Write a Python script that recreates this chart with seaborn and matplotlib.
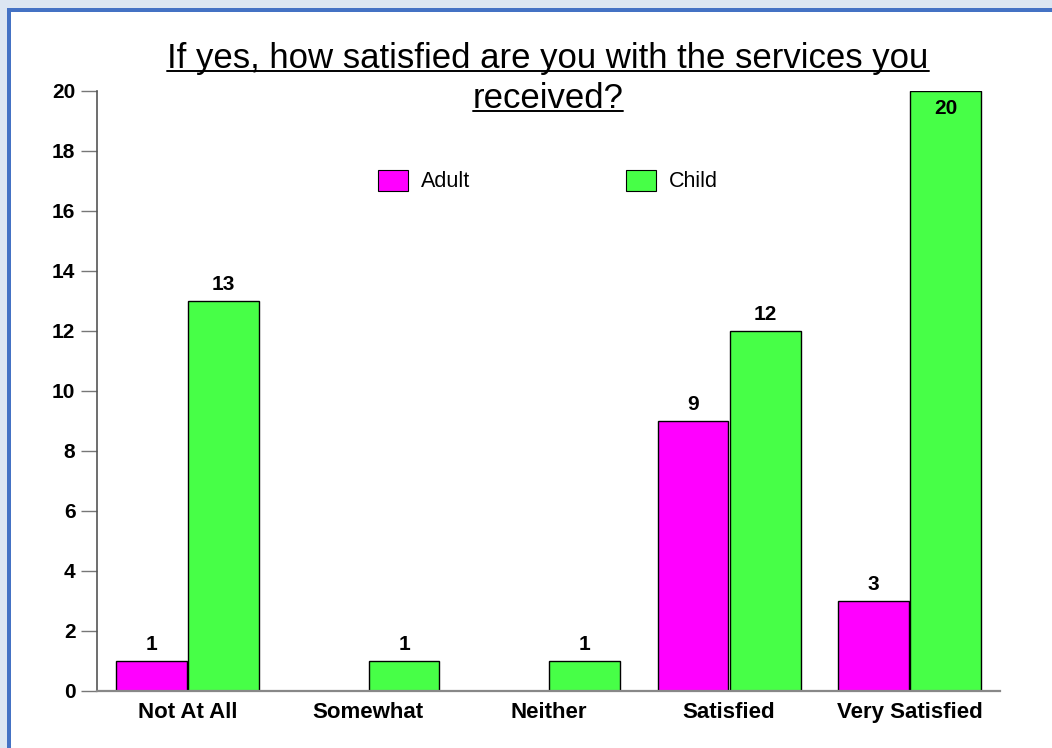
import numpy as np
import pandas as pd
import matplotlib
matplotlib.use("Agg")
import matplotlib.pyplot as plt
from matplotlib.patches import Rectangle
from matplotlib.lines import Line2D
import seaborn as sns

# ---- data ----
responses = ["Not At All", "Somewhat", "Neither", "Satisfied", "Very Satisfied"]
adult = [1, np.nan, np.nan, 9, 3]
child = [13, 1, 1, 12, 20]
groups = ["Adult", "Child"]
title_lines = ["If yes, how satisfied are you with the services you", "received?"]
y_ticks = list(range(0, 21, 2))

df = pd.DataFrame({
    "Response": responses * 2,
    "Group": ["Adult"] * len(responses) + ["Child"] * len(responses),
    "Count": adult + child,
})

sns.set_theme(style="white")
plt.rcParams["font.family"] = ["Liberation Sans", "DejaVu Sans"]

W, H = 1052, 748
fig = plt.figure(figsize=(W / 100, H / 100), dpi=100)
fig.patch.set_facecolor("#dce6f2")

def px_rect(x0, y0, x1, y1, color):
    # rectangle given in pixel coordinates measured from the top-left corner
    fig.add_artist(Rectangle((x0 / W, 1 - y1 / H), (x1 - x0) / W, (y1 - y0) / H,
                             transform=fig.transFigure, facecolor=color,
                             edgecolor="none", zorder=-10))

px_rect(7, 8, W + 5, H + 5, "#4472c4")
px_rect(11, 12, W + 5, H + 5, "white")

ax = fig.add_axes([97 / W, (H - 691) / H, (1000 - 97) / W, (691 - 91) / H])
ax.set_facecolor("none")

palette = {"Adult": "#ff00ff", "Child": "#47ff47"}
sns.barplot(data=df, x="Response", y="Count", hue="Group", hue_order=groups,
            order=responses, palette=palette, edgecolor="black", linewidth=1.0,
            width=0.8, gap=0.02, saturation=1, ax=ax, legend=True)

ax.set_xlim(-0.5, len(responses) - 0.5)
ax.set_ylim(0, 20)
ax.set_yticks(y_ticks)
ax.set_xlabel("")
ax.set_ylabel("")

for s in ["top", "right"]:
    ax.spines[s].set_visible(False)
ax.spines["left"].set_color("#555555")
ax.spines["bottom"].set_color("#888888")
ax.spines["left"].set_linewidth(1.2)
ax.spines["bottom"].set_linewidth(1.6)

ax.tick_params(axis="y", direction="out", length=11.5, width=1.0, color="#777777",
               pad=4, labelsize=15, left=True)
ax.tick_params(axis="x", length=0, pad=8, labelsize=16)
for lbl in ax.get_yticklabels() + ax.get_xticklabels():
    lbl.set_fontweight("bold")
    lbl.set_color("black")

# value labels on each bar
for cont in ax.containers:
    for bar in cont:
        h = bar.get_height()
        if not np.isfinite(h) or h <= 0:
            continue
        cx = bar.get_x() + bar.get_width() / 2
        if h >= ax.get_ylim()[1]:
            ax.annotate(f"{int(h)}", (cx, h), xytext=(0, -6), textcoords="offset points",
                        ha="center", va="top", fontsize=15, fontweight="bold",
                        color="black")
        else:
            ax.annotate(f"{int(h)}", (cx, h), xytext=(0, 5), textcoords="offset points",
                        ha="center", va="bottom", fontsize=15, fontweight="bold",
                        color="black")

# legend
leg = ax.legend(ncol=2, frameon=False, loc="center",
                bbox_to_anchor=(548 / W, 1 - 181 / H), bbox_transform=fig.transFigure,
                fontsize=15.5, handlelength=1.4, handleheight=1.15, handletextpad=0.6,
                columnspacing=7.2, borderpad=0)
for p in leg.get_patches():
    p.set_edgecolor("black")
    p.set_linewidth(0.8)
for t in leg.get_texts():
    t.set_color("black")

# underlined two-line title
title_texts = []
baselines = [68, 108]
for line, b in zip(title_lines, baselines):
    t = fig.text(548 / W, 1 - b / H, line, ha="center", va="baseline",
                 fontsize=25, color="black")
    title_texts.append((t, b))

fig.canvas.draw()
renderer = fig.canvas.get_renderer()
for t, b in title_texts:
    bb = t.get_window_extent(renderer)
    uy = 1 - (b + 3) / H
    fig.add_artist(Line2D([bb.x0 / W, bb.x1 / W], [uy, uy], transform=fig.transFigure,
                          color="black", linewidth=1.4))

fig.savefig("out.png", dpi=100)
